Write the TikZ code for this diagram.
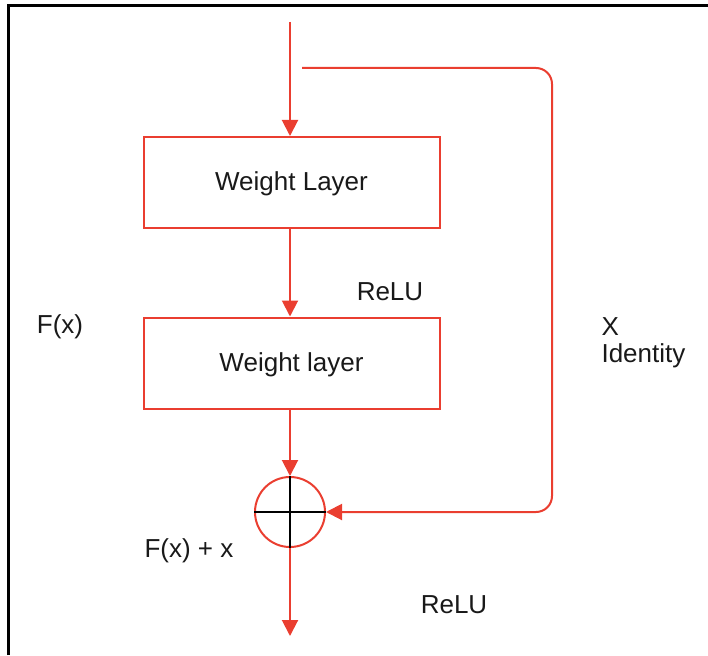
\documentclass[tikz,border=0pt]{standalone}
\usepackage{fontspec}
\setmainfont{Liberation Sans}
\usepackage{tikz}
\usetikzlibrary{positioning,arrows.meta,calc}
\definecolor{lred}{RGB}{234,62,48}
\definecolor{ltext}{RGB}{25,25,25}

\begin{document}
\begin{tikzpicture}[x=1pt,y=-1pt,
    layer/.style={draw=lred,line width=2pt,minimum width=296pt,minimum height=91pt,inner sep=0pt,text depth=2pt},
    adder/.style={circle,draw=lred,line width=2pt,minimum size=70pt,inner sep=0pt},
    flow/.style={lred,line width=2pt,-{Triangle[length=16pt,width=16pt]}},
    every node/.style={font=\fontsize{26}{30}\selectfont,text=ltext}]
  \useasboundingbox (0,0) rectangle (708,655);
  \draw[line width=3pt] (8.5,655) -- (8.5,5.5) -- (708,5.5);
  \coordinate (in) at (290,22);
  \coordinate (skip) at (302,68);
  \coordinate (out) at (290,636);
  \node[layer] (wl1) at (291.5,182.5) {Weight Layer};
  \node[layer] (wl2) at (291.5,363) {Weight layer};
  \node[adder] (sum) at (290,512) {};
  \draw[black,line width=2pt] (sum.north) -- (sum.south);
  \draw[black,line width=2pt] (sum.west) -- (sum.east);
  \draw[flow] (in) -- (wl1.north -| in);
  \draw[flow] (wl1.south -| in) -- (wl2.north -| in);
  \draw[flow] (wl2.south -| in) -- (sum.north);
  \draw[flow] (sum.south) -- (out);
  \draw[flow,rounded corners=16pt] (skip) -- (552,68) -- (552,512) -- (sum.east);
  \node (relu1) at (390,292) {ReLU};
  \node (fx) at (60,327) {F(x)};
  \node[anchor=west] (xid) at (598,327) {X};
  \node[anchor=west] (ident) at (598,356) {Identity};
  \node (fxx) at (189,551) {F(x) + x};
  \node (relu2) at (454,605) {ReLU};
\end{tikzpicture}
\end{document}
